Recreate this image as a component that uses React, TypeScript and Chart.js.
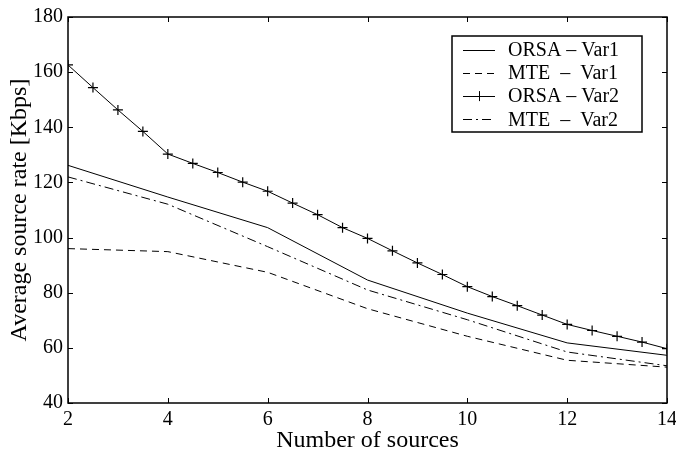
import React, { useEffect, useRef } from "react";
import { Chart, registerables } from "chart.js";

Chart.register(...registerables);

// ---- data ----
const xVar1: number[] = [2, 4, 6, 8, 10, 12, 14];
const orsaVar1: number[] = [126.2, 114.7, 103.6, 84.6, 72.6, 61.8, 57.3];
const mteVar1: number[] = [96.0, 94.9, 87.4, 74.2, 64.2, 55.5, 53.0];
const mteVar2: number[] = [122.0, 112.1, 96.7, 81.0, 70.2, 58.5, 53.5];

const xVar2: number[] = [
  2, 2.5, 3, 3.5, 4, 4.5, 5, 5.5, 6, 6.5, 7, 7.5, 8, 8.5, 9, 9.5, 10, 10.5, 11,
  11.5, 12, 12.5, 13, 13.5, 14,
];
const orsaVar2: number[] = [
  162.6, 154.4, 146.3, 138.5, 130.3, 126.9, 123.6, 120.1, 116.8, 112.5, 108.3,
  103.6, 99.7, 95.2, 90.8, 86.6, 82.2, 78.6, 75.3, 71.9, 68.5, 66.3, 64.2,
  62.1, 59.7,
];

const seriesLabels: string[] = [
  "ORSA \u2013 Var1",
  "MTE  \u2013  Var1",
  "ORSA \u2013 Var2",
  "MTE  \u2013  Var2",
];

const xTicks: number[] = [2, 4, 6, 8, 10, 12, 14];
const yTicks: number[] = [40, 60, 80, 100, 120, 140, 160, 180];

const xTitle = "Number of sources";
const yTitle = "Average source rate [Kbps]";

const FONT = "'Liberation Serif', 'Times New Roman', serif";

const toPts = (xs: number[], ys: number[]) => xs.map((x, i) => ({ x, y: ys[i] }));

const frameTicksPlugin = {
  id: "frameTicks",
  afterDraw(chart: any) {
    const { ctx, chartArea: a, scales } = chart;
    const L = 5;
    ctx.save();
    ctx.strokeStyle = "#000";
    ctx.lineWidth = 1;
    ctx.setLineDash([]);
    ctx.beginPath();
    for (const v of xTicks) {
      const px = Math.round(scales.x.getPixelForValue(v)) + 0.5;
      ctx.moveTo(px, a.bottom);
      ctx.lineTo(px, a.bottom - L);
      ctx.moveTo(px, a.top);
      ctx.lineTo(px, a.top + L);
    }
    for (const v of yTicks) {
      const py = Math.round(scales.y.getPixelForValue(v)) + 0.5;
      ctx.moveTo(a.left, py);
      ctx.lineTo(a.left + L, py);
      ctx.moveTo(a.right, py);
      ctx.lineTo(a.right - L, py);
    }
    ctx.stroke();
    ctx.lineWidth = 1.5;
    ctx.strokeRect(a.left, a.top, a.right - a.left, a.bottom - a.top);
    ctx.restore();
  },
};

const boxLegendPlugin = {
  id: "boxLegend",
  afterDraw(chart: any) {
    const { ctx, chartArea: a } = chart;
    const boxW = 190;
    const boxH = 96;
    const bx = a.right - 25 - boxW;
    const by = a.top + 19;
    ctx.save();
    ctx.fillStyle = "#fff";
    ctx.fillRect(bx, by, boxW, boxH);
    ctx.strokeStyle = "#000";
    ctx.lineWidth = 1.5;
    ctx.setLineDash([]);
    ctx.strokeRect(bx, by, boxW, boxH);
    ctx.font = `20px ${FONT}`;
    ctx.textBaseline = "middle";
    ctx.textAlign = "left";
    chart.data.datasets.forEach((ds: any, i: number) => {
      const cy = by + 13.5 + i * 23.3;
      const lx0 = bx + 11;
      const lx1 = bx + 43;
      ctx.strokeStyle = "#000";
      ctx.lineWidth = 1;
      ctx.setLineDash(ds.borderDash || []);
      ctx.beginPath();
      ctx.moveTo(lx0, Math.round(cy) + 0.5);
      ctx.lineTo(lx1, Math.round(cy) + 0.5);
      ctx.stroke();
      ctx.setLineDash([]);
      if (ds.pointRadius > 0) {
        const cx = (lx0 + lx1) / 2;
        const r = ds.pointRadius;
        ctx.beginPath();
        ctx.moveTo(cx - r, Math.round(cy) + 0.5);
        ctx.lineTo(cx + r, Math.round(cy) + 0.5);
        ctx.moveTo(Math.round(cx) + 0.5, cy - r);
        ctx.lineTo(Math.round(cx) + 0.5, cy + r);
        ctx.stroke();
      }
      ctx.fillStyle = "#000";
      ctx.fillText(ds.label, bx + 56, cy + 1);
    });
    ctx.restore();
  },
};

export default function App() {
  const ref = useRef<HTMLCanvasElement | null>(null);

  useEffect(() => {
    if (!ref.current) return;
    const chart = new Chart(ref.current, {
      type: "line",
      data: {
        datasets: [
          {
            label: seriesLabels[0],
            data: toPts(xVar1, orsaVar1),
            borderColor: "#000",
            borderWidth: 1,
            pointRadius: 0,
            borderDash: [],
          },
          {
            label: seriesLabels[1],
            data: toPts(xVar1, mteVar1),
            borderColor: "#000",
            borderWidth: 1,
            pointRadius: 0,
            borderDash: [7, 5],
          },
          {
            label: seriesLabels[2],
            data: toPts(xVar2, orsaVar2),
            borderColor: "#000",
            borderWidth: 1,
            pointRadius: 5,
            pointStyle: "cross",
            pointBorderColor: "#000",
            pointBorderWidth: 1.2,
            borderDash: [],
          },
          {
            label: seriesLabels[3],
            data: toPts(xVar1, mteVar2),
            borderColor: "#000",
            borderWidth: 1,
            pointRadius: 0,
            borderDash: [9, 4, 2, 4],
          },
        ],
      },
      options: {
        responsive: false,
        animation: false,
        layout: { padding: { top: 16, right: 0, left: 0, bottom: 0 } },
        plugins: {
          legend: { display: false },
          tooltip: { enabled: false },
        },
        elements: { line: { tension: 0 } },
        scales: {
          x: {
            type: "linear",
            min: 2,
            max: 14,
            afterBuildTicks: (s: any) => {
              s.ticks = xTicks.map((v) => ({ value: v }));
            },
            afterFit: (s: any) => {
              s.height = 53;
              s.paddingRight = 9;
            },
            grid: { display: false, drawTicks: false },
            border: { display: false },
            ticks: {
              color: "#000",
              font: { family: FONT, size: 20 },
              padding: 5,
              maxRotation: 0,
            },
            title: {
              display: true,
              text: xTitle,
              color: "#000",
              font: { family: FONT, size: 24 },
              padding: { top: 0, bottom: 1 },
            },
          },
          y: {
            type: "linear",
            min: 40,
            max: 180,
            afterBuildTicks: (s: any) => {
              s.ticks = yTicks.map((v) => ({ value: v }));
            },
            afterFit: (s: any) => {
              s.width = 68;
            },
            grid: { display: false, drawTicks: false },
            border: { display: false },
            ticks: {
              color: "#000",
              font: { family: FONT, size: 20 },
              padding: 5,
            },
            title: {
              display: true,
              text: yTitle,
              color: "#000",
              font: { family: FONT, size: 24 },
              padding: { top: 5, bottom: 0 },
            },
          },
        },
      },
      plugins: [frameTicksPlugin, boxLegendPlugin],
    } as any);
    return () => chart.destroy();
  }, []);

  return (
    <div style={{ position: "fixed", left: 0, top: 0, width: 676, height: 456, background: "#fff" }}>
      <canvas ref={ref} width={676} height={456} style={{ display: "block" }} />
    </div>
  );
}
